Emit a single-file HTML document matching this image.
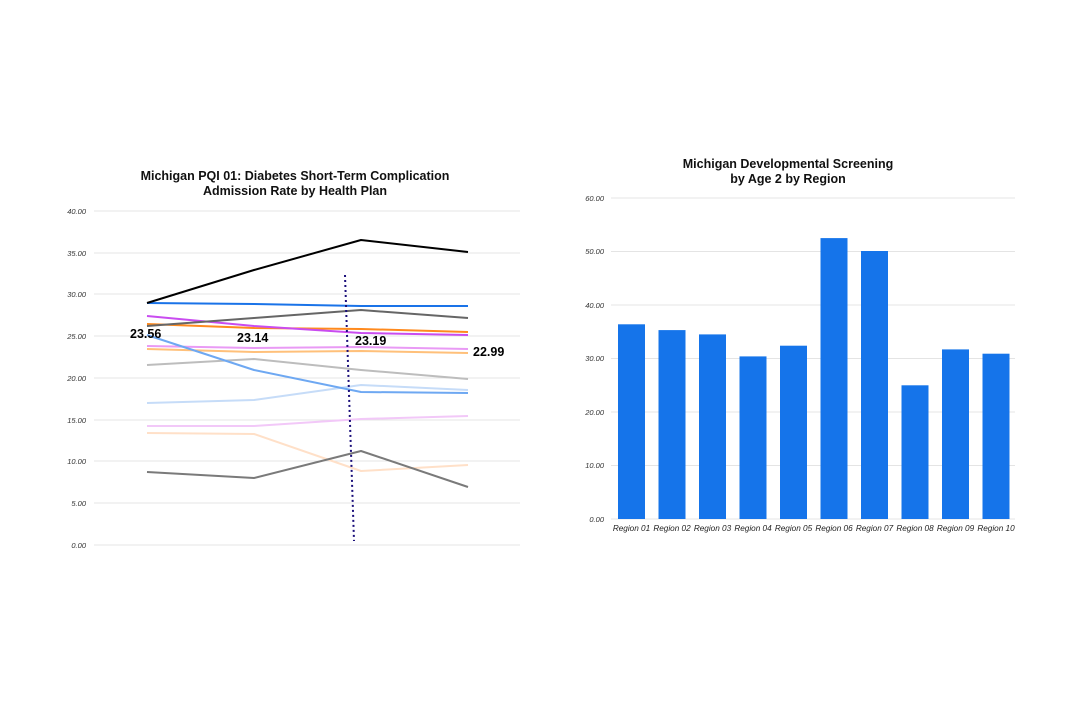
<!DOCTYPE html>
<html><head><meta charset="utf-8"><style>body{margin:0;background:#fff}svg{display:block;font-family:"Liberation Sans",sans-serif}</style></head><body>
<svg width="1080" height="720" viewBox="0 0 1080 720">
<g font-weight="bold" font-size="12.5" text-anchor="middle" fill="#111">
<text x="295" y="180">Michigan PQI 01: Diabetes Short-Term Complication</text>
<text x="295" y="195">Admission Rate by Health Plan</text>
<text x="788" y="168">Michigan Developmental Screening</text>
<text x="788" y="183">by Age 2 by Region</text>
</g>
<g stroke="#e4e4e4" stroke-width="1">
<line x1="94" x2="520" y1="211" y2="211"/><line x1="94" x2="520" y1="253" y2="253"/><line x1="94" x2="520" y1="294" y2="294"/><line x1="94" x2="520" y1="336" y2="336"/><line x1="94" x2="520" y1="378" y2="378"/><line x1="94" x2="520" y1="420" y2="420"/><line x1="94" x2="520" y1="461" y2="461"/><line x1="94" x2="520" y1="503" y2="503"/><line x1="94" x2="520" y1="545" y2="545"/>
<line x1="611" x2="1015" y1="198" y2="198"/><line x1="611" x2="1015" y1="251.5" y2="251.5"/><line x1="611" x2="1015" y1="305" y2="305"/><line x1="611" x2="1015" y1="358.5" y2="358.5"/><line x1="611" x2="1015" y1="412" y2="412"/><line x1="611" x2="1015" y1="465.5" y2="465.5"/><line x1="611" x2="1015" y1="519" y2="519"/>
</g>
<g font-size="7.5" font-style="italic" fill="#333" text-anchor="end">
<text x="86" y="214">40.00</text><text x="86" y="256">35.00</text><text x="86" y="297">30.00</text><text x="86" y="339">25.00</text><text x="86" y="381">20.00</text><text x="86" y="423">15.00</text><text x="86" y="464">10.00</text><text x="86" y="506">5.00</text><text x="86" y="548">0.00</text>
<text x="604" y="201">60.00</text><text x="604" y="254">50.00</text><text x="604" y="308">40.00</text><text x="604" y="361">30.00</text><text x="604" y="415">20.00</text><text x="604" y="468">10.00</text><text x="604" y="522">0.00</text>
</g>
<g fill="none" stroke-width="2" stroke-linejoin="round">
<polyline stroke="#ffe0c8" points="147,433 254,434 361,471 468,465"/>
<polyline stroke="#f2c8f8" points="147,426 254,426 361,419 468,416"/>
<polyline stroke="#c6dcf8" points="147,403 254,400 361,385 468,390"/>
<polyline stroke="#bdbdbd" points="147,365 254,359 361,370 468,379"/>
<polyline stroke="#ffc07a" points="147,349 254,352 361,351 468,353"/>
<polyline stroke="#e99af5" points="147,346 254,348 361,347 468,349"/>
<polyline stroke="#6ea8f2" points="147,335 254,370 361,392 468,393"/>
<polyline stroke="#7a7a7a" points="147,472 254,478 361,451 468,487"/>
<polyline stroke="#ff8a1e" points="147,324 254,328 361,329 468,332"/>
<polyline stroke="#c94cf0" points="147,316 254,326 361,333 468,335"/>
<polyline stroke="#666" points="147,326 254,318 361,310 468,318"/>
<polyline stroke="#1a73e8" points="147,303 254,304 361,306 468,306"/>
<polyline stroke="#000" points="147,303 254,270 361,240 468,252"/>
<line x1="345" y1="275" x2="354" y2="541" stroke="#1a0e7a" stroke-width="2" stroke-dasharray="2,3"/>
</g>
<g font-weight="bold" font-size="12.5" fill="#000">
<text x="130" y="338">23.56</text><text x="237" y="342">23.14</text><text x="355" y="345">23.19</text><text x="473" y="356">22.99</text>
</g>
<g fill="#1574ea">
<rect x="618" y="324.3" width="27" height="194.7"/>
<rect x="658.5" y="330.1" width="27" height="188.9"/>
<rect x="699" y="334.4" width="27" height="184.6"/>
<rect x="739.5" y="356.4" width="27" height="162.6"/>
<rect x="780" y="345.7" width="27" height="173.3"/>
<rect x="820.5" y="238.1" width="27" height="280.9"/>
<rect x="861" y="251" width="27" height="268"/>
<rect x="901.5" y="385.3" width="27" height="133.7"/>
<rect x="942" y="349.4" width="27" height="169.6"/>
<rect x="982.5" y="353.7" width="27" height="165.3"/>
</g>
<g font-size="8.2" font-style="italic" fill="#222" text-anchor="middle">
<text x="631.5" y="531">Region 01</text><text x="672" y="531">Region 02</text><text x="712.5" y="531">Region 03</text><text x="753" y="531">Region 04</text><text x="793.5" y="531">Region 05</text><text x="834" y="531">Region 06</text><text x="874.5" y="531">Region 07</text><text x="915" y="531">Region 08</text><text x="955.5" y="531">Region 09</text><text x="996" y="531">Region 10</text>
</g>
</svg>
</body></html>
